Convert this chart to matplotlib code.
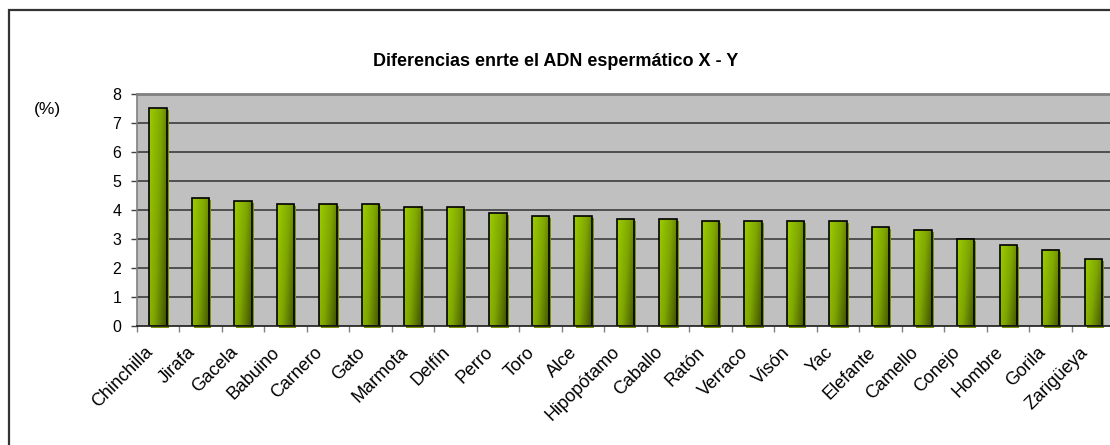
import numpy as np
import matplotlib
matplotlib.use("Agg")
import matplotlib.pyplot as plt
from matplotlib.colors import LinearSegmentedColormap
from matplotlib.patches import Rectangle
from matplotlib.transforms import ScaledTranslation

# Data
especies = ["Chinchilla", "Jirafa", "Gacela", "Babuino", "Carnero", "Gato",
            "Marmota", "Delfín", "Perro", "Toro", "Alce", "Hipopótamo",
            "Caballo", "Ratón", "Verraco", "Visón", "Yac", "Elefante",
            "Camello", "Conejo", "Hombre", "Gorila", "Zarigüeya"]
diferencia = [7.5, 4.4, 4.3, 4.2, 4.2, 4.2, 4.1, 4.1, 3.9, 3.8, 3.8, 3.7,
              3.7, 3.6, 3.6, 3.6, 3.6, 3.4, 3.3, 3.0, 2.8, 2.6, 2.3]
y_ticks = [0, 1, 2, 3, 4, 5, 6, 7, 8]
titulo = "Diferencias enrte el ADN espermático X - Y"
unidad = "(%)"

plt.rcParams["font.family"] = ["Liberation Sans", "DejaVu Sans"]

W, H = 1110, 445
fig = plt.figure(figsize=(W / 100, H / 100), dpi=100)
fig.patch.set_facecolor("white")

# Chart-area frame (runs off the right and bottom edges)
fig.patches.append(Rectangle((9 / W, -0.1), 1.2, 1 - 10 / H + 0.1,
                             transform=fig.transFigure, fill=False,
                             edgecolor="#333333", linewidth=1.6))

left, right = 136.7, 1114.5
top, bottom = 94.0, 325.7
ax = fig.add_axes([left / W, 1 - bottom / H, (right - left) / W, (bottom - top) / H])
ax.set_facecolor("#C0C0C0")

n = len(especies)
x = np.arange(n)

# Gridlines
for v in y_ticks[1:-1]:
    ax.axhline(v, color="#3c3c3c", linewidth=1.2, zorder=1)

width = 0.41
cmap = LinearSegmentedColormap.from_list("verde", ["#9ccc00", "#7fa600", "#3f5200"])
gy, gx = np.mgrid[0:1:64j, 0:1:32j]
grad = 0.75 * gx + 0.35 * gy
grad = grad / grad.max()

shadow = ax.transData + ScaledTranslation(2 / 100, -2 / 100, fig.dpi_scale_trans)
for xi, val in zip(x, diferencia):
    # drop shadow
    ax.add_patch(Rectangle((xi - width / 2, 0), width, val, transform=shadow,
                           facecolor="#7a9400", edgecolor="none", zorder=2,
                           clip_on=False))
    body = Rectangle((xi - width / 2, 0), width, val, facecolor="none",
                     edgecolor="black", linewidth=1.2, zorder=4)
    ax.add_patch(body)
    # diagonal gradient fill: light top-left, dark bottom-right
    im = ax.imshow(grad, cmap=cmap, origin="upper",
                   extent=(xi - width / 2, xi + width / 2, 0, val),
                   aspect="auto", zorder=3, interpolation="bilinear")
    im.set_clip_path(body)

ax.set_xlim(-0.5, n - 0.5)
ax.set_ylim(0, 8)

ax.spines["right"].set_visible(False)
ax.spines["top"].set_color("#808080")
ax.spines["top"].set_linewidth(2)
ax.spines["left"].set_color("#808080")
ax.spines["left"].set_linewidth(1.2)
ax.spines["bottom"].set_color("#1a1a1a")
ax.spines["bottom"].set_linewidth(1.2)
ax.spines["bottom"].set_zorder(5)

ax.set_yticks(y_ticks)
ax.set_yticklabels([str(v) for v in y_ticks], fontsize=11.5)
ax.tick_params(axis="y", direction="out", length=4, width=1, color="#404040", pad=7)

ax.set_xticks(x)
ax.set_xticklabels(especies, rotation=45, ha="right", rotation_mode="anchor",
                   fontsize=13)
ax.tick_params(axis="x", which="major", length=0, pad=13)
ax.set_xticks(np.arange(n + 1) - 0.5, minor=True)
ax.tick_params(axis="x", which="minor", direction="out", length=4, width=1,
               color="#808080")
for lbl in ax.get_xticklabels():
    lbl.set_transform(lbl.get_transform() + ScaledTranslation(-14 / 100, 0, fig.dpi_scale_trans))

fig.text(556 / W, 1 - 61 / H, titulo, ha="center", va="center",
         fontsize=13, fontweight="bold")
fig.text(47 / W, 1 - 109 / H, unidad, ha="center", va="center", fontsize=12.5)

fig.savefig("out.png", dpi=100)
